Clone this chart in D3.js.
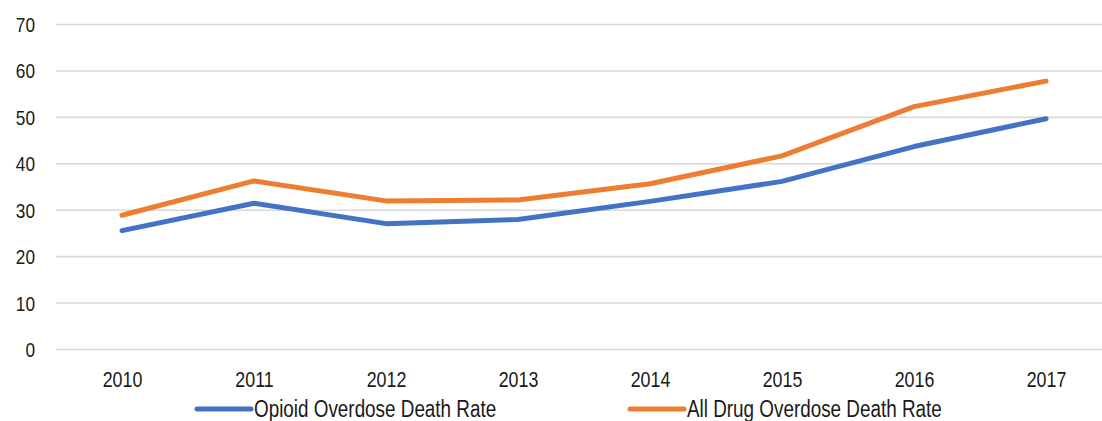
<!DOCTYPE html>
<html>
<head>
<meta charset="utf-8">
<script src="https://cdn.jsdelivr.net/npm/d3@7"></script>
<style>
  html, body { margin: 0; padding: 0; background: #fff; }
  svg { display: block; font-family: "Liberation Sans Narrow", "Liberation Sans", Arial, sans-serif; }
</style>
</head>
<body>
<svg id="chart" width="1102" height="421"></svg>
<script>
const years = ["2010", "2011", "2012", "2013", "2014", "2015", "2016", "2017"];
const opioidRate = [25.5, 31.4, 27.0, 27.9, 31.8, 36.1, 43.6, 49.6];
const allDrugRate = [28.8, 36.2, 31.9, 32.1, 35.6, 41.6, 52.2, 57.7];
const yTicks = [0, 10, 20, 30, 40, 50, 60, 70];
const seriesNames = ["Opioid Overdose Death Rate", "All Drug Overdose Death Rate"];
const seriesColors = ["#4472C4", "#ED7D31"];

const svg = d3.select("#chart");
const x = d3.scalePoint().domain(years).range([56, 1112]).padding(0.5);
const y = d3.scaleLinear().domain([0, 70]).range([349, 24]);

// condense text horizontally (narrow face look)
function condense(sel, factor) {
  sel.each(function () {
    const w = this.getComputedTextLength();
    d3.select(this).attr("textLength", w * factor).attr("lengthAdjust", "spacingAndGlyphs");
  });
}

// Y axis with gridlines
const yAxis = svg.append("g")
  .attr("transform", "translate(56,0)")
  .call(d3.axisLeft(y).tickValues(yTicks).tickSize(-(1112 - 56)).tickPadding(21).tickFormat(d3.format("d")));
yAxis.select(".domain").remove();
yAxis.selectAll(".tick line").attr("stroke", "#d9d9d9").attr("stroke-width", 1.6);
yAxis.selectAll(".tick text").attr("fill", "#1a1a1a").style("font-size", "21px").attr("dy", "0.36em")
  .call(condense, 0.82);

// X axis
const xAxis = svg.append("g")
  .attr("transform", "translate(0,349)")
  .call(d3.axisBottom(x).tickSize(0).tickPadding(0));
xAxis.select(".domain").remove();
xAxis.selectAll(".tick text").attr("fill", "#1a1a1a").style("font-size", "22px").attr("y", 38).attr("dy", 0)
  .call(condense, 0.81);

// Lines
const line = d3.line().x((d, i) => x(years[i])).y(d => y(d));
[opioidRate, allDrugRate].forEach((vals, k) => {
  svg.append("path")
    .datum(vals)
    .attr("fill", "none")
    .attr("stroke", seriesColors[k])
    .attr("stroke-width", 5)
    .attr("stroke-linecap", "round")
    .attr("stroke-linejoin", "round")
    .attr("d", line);
});

// Legend
const legendX = [197, 630];
const legend = svg.append("g");
seriesNames.forEach((name, k) => {
  const g = legend.append("g").attr("transform", `translate(${legendX[k]},409)`);
  g.append("line").attr("x1", 0).attr("x2", 54).attr("y1", 0).attr("y2", 0)
    .attr("stroke", seriesColors[k]).attr("stroke-width", 5).attr("stroke-linecap", "round");
  g.append("text").attr("x", 57).attr("y", 7.5)
    .attr("fill", "#1a1a1a").style("font-size", "23px").text(name)
    .call(condense, 0.82);
});
</script>
</body>
</html>
